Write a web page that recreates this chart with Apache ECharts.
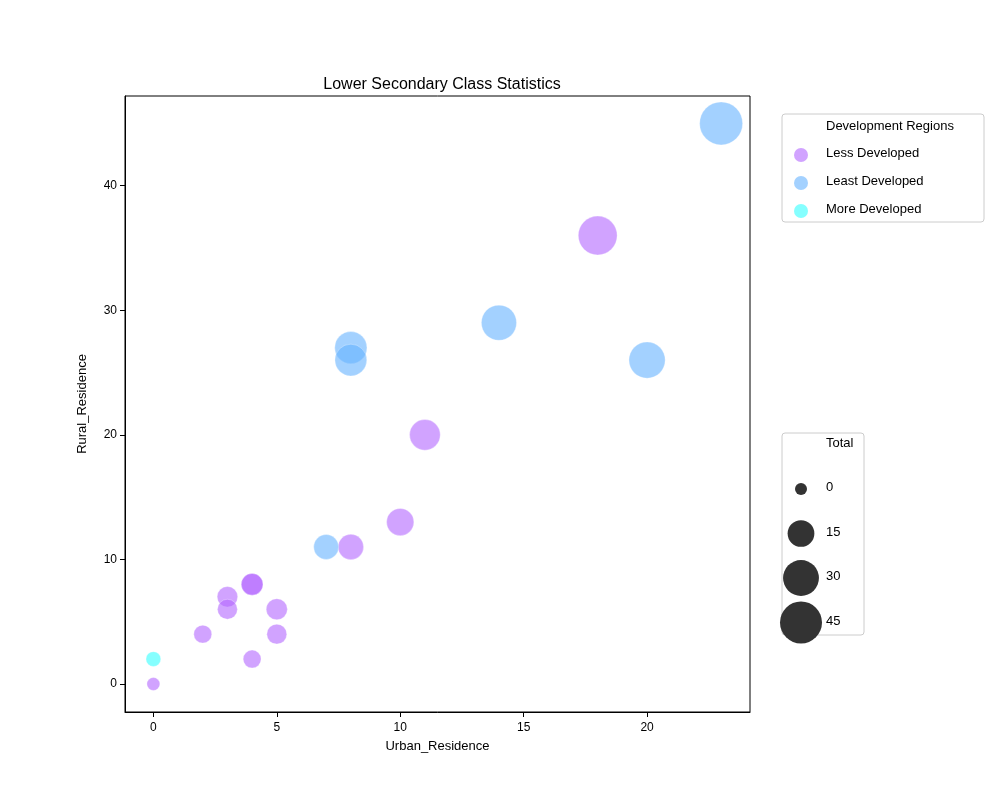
<!DOCTYPE html>
<html>
<head>
<meta charset="utf-8">
<title>Lower Secondary Class Statistics</title>
<script src="https://cdn.jsdelivr.net/npm/echarts@6/dist/echarts.min.js"></script>
<style>html,body{margin:0;background:#fff}#main{width:1000px;height:800px}</style>
</head>
<body>
<div id="main"></div>
<script>
var groups = ['Less Developed', 'Least Developed', 'More Developed'];
var colors = ['#b366ff', '#66b3ff', '#33ffff'];
// [urban, rural] per group
var lessDev = [[0,0],[2,4],[3,7],[3,6],[4,8],[4,8],[4,2],[5,6],[5,4],[8,11],[10,13],[11,20],[18,36]];
var leastDev = [[7,11],[8,27],[8,26],[14,29],[20,26],[23,45]];
var moreDev = [[0,2]];
var xTicks = [0, 5, 10, 15, 20];
var yTicks = [0, 10, 20, 30, 40];
var sizeTicks = [0, 15, 30, 45];

// total = urban + rural, area scaled
var tMax = 68;
function diam(t) {
    var a = 113 + (t / tMax) * (1385 - 113);
    return Math.sqrt(a / Math.PI) * 2;
}
function legDiam(v) { return diam(Math.min(v * 1.6, tMax)); }

var series = [lessDev, leastDev, moreDev].map(function(d, i) {
    return {
        name: groups[i], type: 'scatter',
        data: d.map(function(p){ return [p[0], p[1], p[0] + p[1]]; }),
        symbolSize: function(v){ return diam(v[2]) + 1; },
        itemStyle: { color: colors[i], opacity: 0.6, borderColor: '#fff', borderWidth: 0.5 }
    };
});

var graphics = [];
// group legend
graphics.push({type:'rect', shape:{x:782,y:114,width:202,height:108,r:3}, style:{fill:'#fff',stroke:'#ccc'}});
graphics.push({type:'text', x:826, y:120, style:{text:'Development Regions', fontSize:13, fill:'#000'}});
groups.forEach(function(g, i) {
    var y = 155 + i * 28;
    graphics.push({type:'circle', shape:{cx:801, cy:y, r:7}, style:{fill:colors[i], opacity:0.6}});
    graphics.push({type:'text', x:826, y:y-8, style:{text:g, fontSize:13, fill:'#000'}});
});
// size legend
graphics.push({type:'rect', shape:{x:782,y:433,width:82,height:202,r:3}, style:{fill:'#fff',stroke:'#ccc'}});
graphics.push({type:'text', x:826, y:437, style:{text:'Total', fontSize:13, fill:'#000'}});
sizeTicks.forEach(function(v, i) {
    var y = 489 + i * 44.5;
    graphics.push({type:'circle', shape:{cx:801, cy:y, r:legDiam(v)/2}, style:{fill:'#333'}});
    graphics.push({type:'text', x:826, y:y-8, style:{text:String(v), fontSize:13, fill:'#000'}});
});

var axisCommon = {
    axisLine: { onZero: false, lineStyle: { color: '#000' } },
    splitLine: { show: false },
    nameLocation: 'middle',
    nameTextStyle: { color: '#000', fontSize: 13 }
};

var option = {
    backgroundColor: '#fff',
    animation: false,
    title: { text: 'Lower Secondary Class Statistics', left: 437, top: 72, textAlign: 'center',
             textStyle: { fontSize: 16, fontWeight: 'normal', color: '#000' } },
    grid: { left: 125, right: 250, top: 96, bottom: 88, show: true, borderColor: '#000', borderWidth: 1 },
    xAxis: Object.assign({}, axisCommon, {
        type: 'value', min: -1.15, max: 24.17, name: 'Urban_Residence', nameGap: 28,
        axisTick: { lineStyle: { color: '#000' }, customValues: xTicks },
        axisLabel: { color: '#000', fontSize: 12, margin: 10, customValues: xTicks }
    }),
    yAxis: Object.assign({}, axisCommon, {
        type: 'value', min: -2.25, max: 47.2, name: 'Rural_Residence', nameGap: 36,
        axisTick: { lineStyle: { color: '#000' }, customValues: yTicks },
        axisLabel: { color: '#000', fontSize: 12, customValues: yTicks }
    }),
    graphic: graphics,
    series: series
};

var chart = echarts.init(document.getElementById('main'));
chart.setOption(option);
</script>
</body>
</html>
